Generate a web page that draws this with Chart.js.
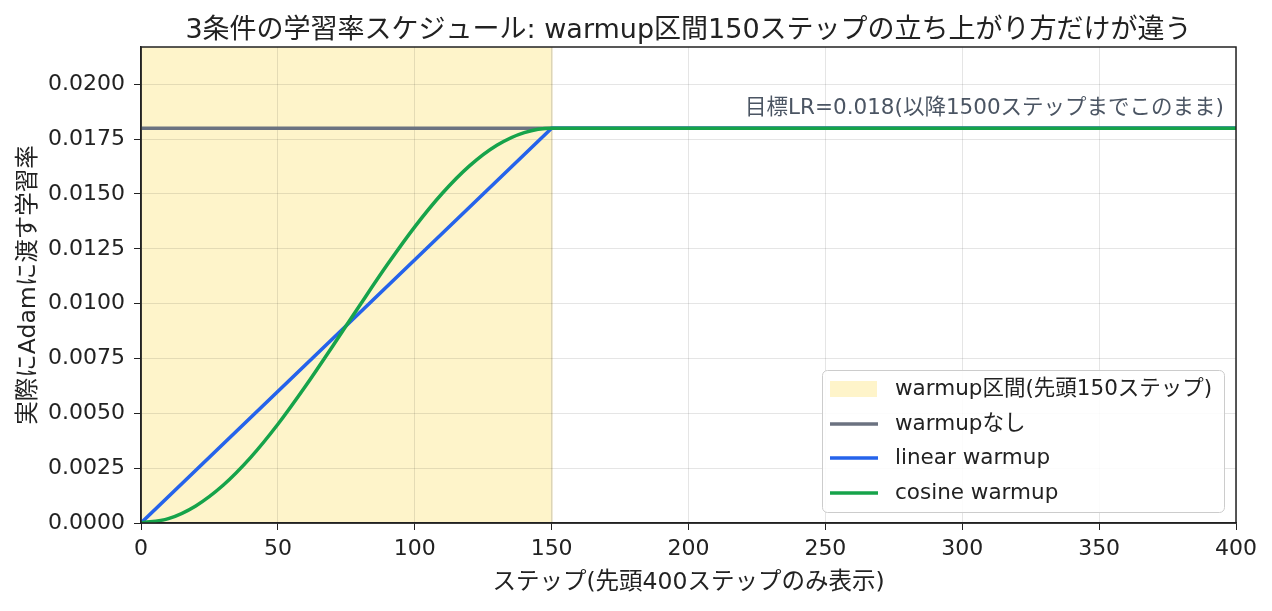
<!DOCTYPE html>
<html>
<head>
<meta charset="utf-8">
<script src="https://cdn.jsdelivr.net/npm/chart.js@4"></script>
<style>
  html, body { margin: 0; padding: 0; background: #fff; }
  #wrap { width: 1272px; height: 611px; }
</style>
</head>
<body>
<div id="wrap"><canvas id="lrChart" width="1272" height="611"></canvas></div>
<script>
const FONT = "'DejaVu Sans', 'Noto Sans CJK JP', sans-serif";

// x ticks / y ticks
const xTicks = [0, 50, 100, 150, 200, 250, 300, 350, 400];
const yTicks = [0, 0.0025, 0.005, 0.0075, 0.01, 0.0125, 0.015, 0.0175, 0.02];

// warmupなし
const noWarmupSteps = [0, 400];
const noWarmupLR = [0.018, 0.018];

// linear warmup
const linearSteps = [0, 150, 400];
const linearLR = [0, 0.018, 0.018];

// cosine warmup
const cosineSteps = [0, 10, 20, 30, 40, 50, 60, 70, 80, 90, 100, 110, 120, 130, 140, 150, 400];
const cosineLR = [0, 0.0002, 0.00078, 0.00172, 0.00298, 0.0045, 0.00622, 0.00806, 0.00994,
  0.01178, 0.0135, 0.01502, 0.01628, 0.01722, 0.0178, 0.018, 0.018];

const warmupEnd = 150;
const targetLR = 0.018;
const titleText = "3条件の学習率スケジュール: warmup区間150ステップの立ち上がり方だけが違う";
const noteText = "目標LR=0.018(以降1500ステップまでこのまま)";
const legendLabels = ["warmup区間(先頭150ステップ)", "warmupなし", "linear warmup", "cosine warmup"];
const colors = { band: "rgba(253,230,138,0.45)", none: "#6b7280", linear: "#2563eb", cosine: "#16a34a" };

const pts = (xs, ys) => xs.map((x, i) => ({ x: x, y: ys[i] }));

const extras = {
  id: "extras",
  beforeDraw(chart) {
    const { ctx, chartArea: a, scales } = chart;
    const x0 = scales.x.getPixelForValue(0);
    const x1 = scales.x.getPixelForValue(warmupEnd);
    ctx.save();
    ctx.fillStyle = colors.band;
    ctx.fillRect(x0, a.top, x1 - x0, a.bottom - a.top);
    ctx.strokeStyle = "rgba(200,180,110,0.45)";
    ctx.lineWidth = 1;
    ctx.beginPath();
    ctx.moveTo(x1 + 0.5, a.top);
    ctx.lineTo(x1 + 0.5, a.bottom);
    ctx.stroke();

    // title, centred over the plot area
    ctx.fillStyle = "#222";
    ctx.font = "27px " + FONT;
    ctx.textAlign = "center";
    ctx.textBaseline = "middle";
    ctx.fillText(titleText, (a.left + a.right) / 2, 31);
    ctx.restore();
  },
  afterDatasetsDraw(chart) {
    const { ctx, chartArea: a, scales } = chart;
    ctx.save();
    // frame
    ctx.strokeStyle = "#222";
    ctx.lineWidth = 1.5;
    ctx.strokeRect(a.left, a.top, a.right - a.left, a.bottom - a.top);

    // annotation
    ctx.fillStyle = "#4b5563";
    ctx.font = "21.5px " + FONT;
    ctx.textAlign = "right";
    ctx.textBaseline = "middle";
    ctx.fillText(noteText, a.right - 12, scales.y.getPixelForValue(targetLR) - 20);

    // legend
    const bx = a.right - 414, by = a.bottom - 153, bw = 402, bh = 142;
    ctx.fillStyle = "rgba(255,255,255,0.85)";
    ctx.strokeStyle = "#cccccc";
    ctx.lineWidth = 1;
    ctx.beginPath();
    ctx.roundRect(bx + 0.5, by + 0.5, bw, bh, 5);
    ctx.fill();
    ctx.stroke();
    const rowY = [by + 19, by + 54, by + 88, by + 123];
    const swatch = [colors.band, colors.none, colors.linear, colors.cosine];
    ctx.textAlign = "left";
    ctx.textBaseline = "middle";
    ctx.font = "21.5px " + FONT;
    rowY.forEach((y, i) => {
      if (i === 0) {
        ctx.fillStyle = colors.band;
        ctx.fillRect(bx + 8, y - 8, 47, 16);
      } else {
        ctx.strokeStyle = swatch[i];
        ctx.lineWidth = 3.5;
        ctx.beginPath();
        ctx.moveTo(bx + 8, y);
        ctx.lineTo(bx + 56, y);
        ctx.stroke();
      }
      ctx.fillStyle = "#222";
      ctx.fillText(legendLabels[i], bx + 73, y);
    });
    ctx.restore();
  }
};

new Chart(document.getElementById("lrChart"), {
  type: "line",
  data: {
    datasets: [
      { label: legendLabels[1], data: pts(noWarmupSteps, noWarmupLR), borderColor: colors.none, borderWidth: 3.5, order: 3 },
      { label: legendLabels[2], data: pts(linearSteps, linearLR), borderColor: colors.linear, borderWidth: 3.5, order: 2 },
      { label: legendLabels[3], data: pts(cosineSteps, cosineLR), borderColor: colors.cosine, borderWidth: 3.5, order: 1,
        cubicInterpolationMode: "monotone" }
    ]
  },
  plugins: [extras],
  options: {
    responsive: false,
    animation: false,
    devicePixelRatio: 1,
    layout: { padding: { left: 0, right: 36, top: 47, bottom: 14 } },
    elements: { point: { radius: 0 }, line: { fill: false, borderCapStyle: "butt" } },
    plugins: {
      legend: { display: false },
      tooltip: { enabled: false },
      title: { display: false }
    },
    scales: {
      x: {
        type: "linear",
        min: 0, max: 400,
        afterBuildTicks: s => { s.ticks = xTicks.map(v => ({ value: v })); },
        afterFit: s => { s.height = 74; },
        ticks: { color: "#222", font: { family: FONT, size: 22 }, padding: 6, maxRotation: 0 },
        grid: { color: "rgba(0,0,0,0.1)", tickColor: "#222", tickLength: 7, lineWidth: 1 },
        border: { color: "#222", width: 1.5 },
        title: { display: true, text: "ステップ(先頭400ステップのみ表示)", color: "#222",
          font: { family: FONT, size: 23.5 }, padding: { top: 0, bottom: 0 } }
      },
      y: {
        min: 0, max: 0.0217,
        afterBuildTicks: s => { s.ticks = yTicks.map(v => ({ value: v })); },
        afterFit: s => { s.width = 141; },
        ticks: { color: "#222", font: { family: FONT, size: 22 }, padding: 9,
          callback: v => Number(v).toFixed(4) },
        grid: { color: "rgba(0,0,0,0.1)", tickColor: "#222", tickLength: 7, lineWidth: 1 },
        border: { color: "#222", width: 1.5 },
        title: { display: true, text: "実際にAdamに渡す学習率", color: "#222",
          font: { family: FONT, size: 23.5 }, padding: { top: 15, bottom: 0 } }
      }
    }
  }
});
</script>
</body>
</html>
